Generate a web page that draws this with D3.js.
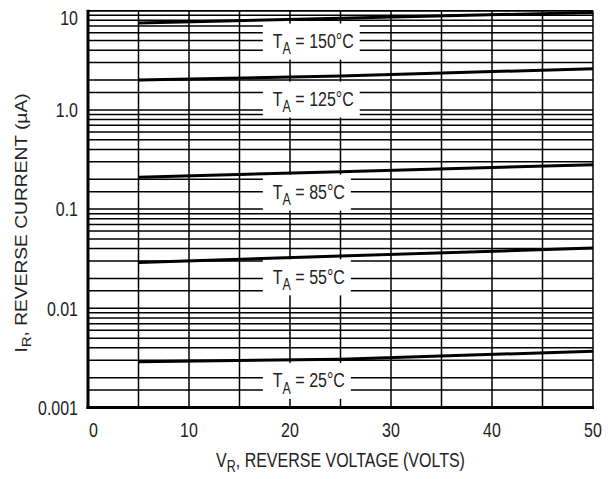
<!DOCTYPE html>
<html>
<head>
<meta charset="utf-8">
<script src="https://cdn.jsdelivr.net/npm/d3@7"></script>
<style>
    body { margin: 0; background: #fff; }
    svg { display: block; }
</style>
</head>
<body>
<div id="chart-container"></div>
<script>
// Data (reverse current vs reverse voltage)
const voltages = [5, 25, 50];
const temperatures = ["150", "125", "85", "55", "25"];
const current150 = [7.5, 8.4, 9.6];
const current125 = [2.0, 2.2, 2.6];
const current85 = [0.21, 0.238, 0.28];
const current55 = [0.029, 0.0337, 0.0405];
const current25 = [0.0029, 0.00306, 0.0037];
const labelCurrents = [5.0, 1.3, 0.15, 0.021, 0.0019];
const labelVoltage = 18.3;

const xTicks = [0, 10, 20, 30, 40, 50];
const xGrid = [5, 10, 15, 20, 25, 30, 35, 40, 45];
const yTicks = [0.001, 0.01, 0.1, 1, 10];
const yTickLabels = ["0.001", "0.01", "0.1", "1.0", "10"];
const gridMantissas = [1, 1.5, 2, 3, 4, 5, 6, 7, 8, 9];

const series = [current150, current125, current85, current55, current25];

// Set dimensions
const width = 615;
const height = 479;
const plotLeft = 88, plotRight = 593, plotTop = 10.7, plotBottom = 407.5;
const SY = 1.27; // the figure's text is stretched vertically

const x = d3.scaleLinear().domain([0, 50]).range([plotLeft, plotRight]);
const y = d3.scaleLog().domain([0.001, 10]).range([plotBottom, plotTop]);

const svg = d3.select("#chart-container")
    .append("svg")
    .attr("width", width)
    .attr("height", height)
    .style("font-family", "'Liberation Sans', Arial, sans-serif")
    .style("font-size", "16px");

const gridLayer = svg.append("g");
const boxLayer = svg.append("g");
const curveLayer = svg.append("g");
const textLayer = svg.append("g").attr("fill", "#222");

// Helper: stretched text placed with its baseline at (px, py)
function stretchedText(parent, px, py, anchor) {
    return parent.append("g")
        .attr("transform", `translate(${px}, ${py}) scale(1, ${SY})`)
        .append("text")
        .attr("text-anchor", anchor);
}

// Horizontal log grid lines
const hLines = [];
yTicks.slice(0, -1).forEach(decade => {
    gridMantissas.forEach(m => hLines.push(decade * m));
});
hLines.push(10);

gridLayer.selectAll(".hgrid")
    .data(hLines)
    .enter()
    .append("line")
    .attr("class", "hgrid")
    .attr("x1", plotLeft)
    .attr("x2", plotRight)
    .attr("y1", d => y(d))
    .attr("y2", d => y(d))
    .attr("stroke", "#000")
    .attr("stroke-width", 1.5);

// Vertical grid lines
gridLayer.selectAll(".vgrid")
    .data(xGrid)
    .enter()
    .append("line")
    .attr("class", "vgrid")
    .attr("x1", d => x(d))
    .attr("x2", d => x(d))
    .attr("y1", plotTop)
    .attr("y2", plotBottom)
    .attr("stroke", "#000")
    .attr("stroke-width", 1.5);

// Frame: thin top/right, heavy left/bottom
gridLayer.append("line")
    .attr("x1", x(50)).attr("x2", x(50))
    .attr("y1", plotTop).attr("y2", plotBottom)
    .attr("stroke", "#000").attr("stroke-width", 1.5);
gridLayer.append("line")
    .attr("x1", plotLeft).attr("x2", plotRight)
    .attr("y1", plotTop).attr("y2", plotTop)
    .attr("stroke", "#000").attr("stroke-width", 1.5);
gridLayer.append("line")
    .attr("x1", plotLeft).attr("x2", plotLeft)
    .attr("y1", plotTop - 1).attr("y2", plotBottom + 1.5)
    .attr("stroke", "#000").attr("stroke-width", 3);
gridLayer.append("line")
    .attr("x1", plotLeft - 1.5).attr("x2", plotRight + 1)
    .attr("y1", plotBottom).attr("y2", plotBottom)
    .attr("stroke", "#000").attr("stroke-width", 3);

// Curves
const line = d3.line()
    .x((d, i) => x(voltages[i]))
    .y(d => y(d));

curveLayer.selectAll(".curve")
    .data(series)
    .enter()
    .append("path")
    .attr("class", "curve")
    .attr("d", line)
    .attr("fill", "none")
    .attr("stroke", "#000")
    .attr("stroke-width", 3);

// Temperature labels with white boxes that cut the grid
temperatures.forEach((t, i) => {
    const cy = y(labelCurrents[i]);
    const tx = x(labelVoltage);
    const label = stretchedText(textLayer, tx, cy + 7.3, "start");
    label.append("tspan").text("T");
    label.append("tspan").attr("font-size", "12.5px").attr("dy", 5).text("A");
    label.append("tspan").attr("dy", -5).text(` = ${t}°C`);
    const len = label.node().getComputedTextLength();
    boxLayer.append("rect")
        .attr("x", tx - 10)
        .attr("y", cy - 17)
        .attr("width", len + 16)
        .attr("height", 36)
        .attr("fill", "#fff");
});

// Y tick labels
yTicks.forEach((v, i) => {
    const cy = Math.max(y(v), 17.5);
    stretchedText(textLayer, 78, cy + 7.3, "end").text(yTickLabels[i]);
});

// X tick labels
xTicks.forEach(v => {
    stretchedText(textLayer, v === 0 ? x(v) + 1 : x(v), 436.5, v === 0 ? "start" : "middle").text(v);
});

// X axis title
const xTitle = stretchedText(textLayer, (plotLeft + plotRight) / 2, 467, "middle");
xTitle.append("tspan").text("V");
xTitle.append("tspan").attr("font-size", "12.5px").attr("dy", 4).text("R");
xTitle.append("tspan").attr("dy", -4).text(", REVERSE VOLTAGE (VOLTS)");

// Y axis title
const yTitle = textLayer.append("g")
    .attr("transform", `translate(26.5, 223) scale(1, 1.2) rotate(-90)`)
    .append("text")
    .attr("text-anchor", "middle");
yTitle.append("tspan").text("I");
yTitle.append("tspan").attr("font-size", "12.5px").attr("dy", 4).text("R");
yTitle.append("tspan").attr("dy", -4).text(", REVERSE CURRENT (µA)");
</script>
</body>
</html>
